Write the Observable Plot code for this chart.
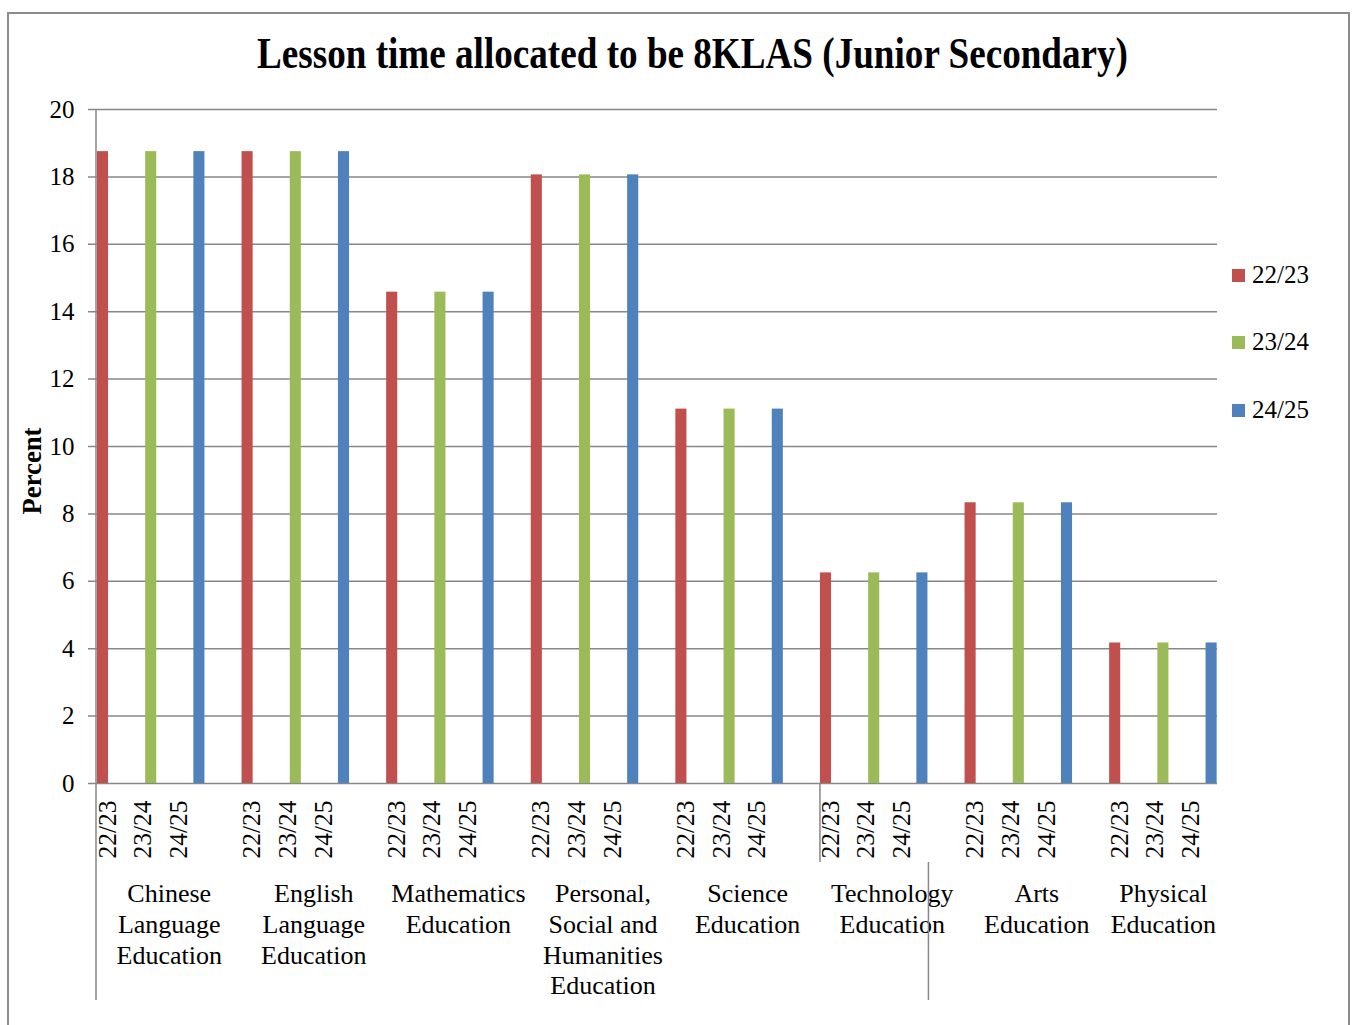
<!DOCTYPE html>
<html>
<head>
<meta charset="utf-8">
<script src="https://cdn.jsdelivr.net/npm/d3@7"></script>
<script src="https://cdn.jsdelivr.net/npm/@observablehq/plot@0.6"></script>
<style>
  body { margin: 0; background: #fff; }
  #wrap { position: relative; width: 1352px; height: 1025px; overflow: hidden; background: #fff; }
  #frame { position: absolute; left: 7px; top: 12px; width: 1343px; height: 1040px; border: 2px solid #8c8c8c; box-sizing: border-box; pointer-events: none; }
  #chart { position: absolute; left: 0; top: 0; }
  #chart svg text { font-family: "Liberation Serif", "Times New Roman", serif; }
  .legend { position: absolute; left: 1232px; font-family: "Liberation Serif", "Times New Roman", serif; font-size: 25px; color: #000; line-height: 1; }
  .legend span.sw { position: absolute; left: 0; width: 13px; height: 13px; }
  .legend span.lb { position: absolute; left: 20px; white-space: nowrap; }
</style>
</head>
<body>
<div id="wrap">
  <div id="chart"></div>
  <div id="legend"></div>
  <div id="frame"></div>
</div>
<script>
// ---- data ----
const categories = [
  "Chinese Language Education",
  "English Language Education",
  "Mathematics Education",
  "Personal, Social and Humanities Education",
  "Science Education",
  "Technology Education",
  "Arts Education",
  "Physical Education"
];
const categoryLabels = [
  "Chinese\nLanguage\nEducation",
  "English\nLanguage\nEducation",
  "Mathematics\nEducation",
  "Personal,\nSocial and\nHumanities\nEducation",
  "Science\nEducation",
  "Technology\nEducation",
  "Arts\nEducation",
  "Physical\nEducation"
];
const years = ["22/23", "23/24", "24/25"];
const values2223 = [18.75, 18.75, 14.58, 18.06, 11.11, 6.25, 8.33, 4.17];
const values2324 = [18.75, 18.75, 14.58, 18.06, 11.11, 6.25, 8.33, 4.17];
const values2425 = [18.75, 18.75, 14.58, 18.06, 11.11, 6.25, 8.33, 4.17];
const yTicks = [0, 2, 4, 6, 8, 10, 12, 14, 16, 18, 20];
const colors = ["#C0504D", "#9BBB59", "#4F81BD"];
const titleText = "Lesson time allocated to be 8KLAS (Junior Secondary)";
const yLabel = "Percent";

// ---- build table ----
const series = [values2223, values2324, values2425];
const data = [];
categories.forEach((c, i) => years.forEach((yr, j) => {
  data.push({cat: c, year: yr, key: c + "|" + yr, value: series[j][i]});
}));
const keys = data.map(d => d.key);
const catData = categories.map((c, i) => ({cat: c, label: categoryLabels[i], mid: c + "|" + years[1]}));

const serif = "'Liberation Serif', 'Times New Roman', serif";
const yearOffsets = [12.5, 0, -12.5];

function decor(index, scales, values, dims) {
  const x = scales.x, y = scales.y;
  const bw = x.bandwidth();
  const g = d3.create("svg:g");
  const axisX = dims.marginLeft;
  const y0 = y(0);
  g.append("line").attr("x1", axisX).attr("x2", axisX).attr("y1", y(20)).attr("y2", 1000)
    .attr("stroke", "#878787").attr("stroke-width", 1.5);
  const tRed = x(categories[5] + "|" + years[0]);
  const tBlue = x(categories[5] + "|" + years[2]) + bw;
  g.append("line").attr("x1", tRed).attr("x2", tRed).attr("y1", y0).attr("y2", 862)
    .attr("stroke", "#878787").attr("stroke-width", 1.5);
  g.append("line").attr("x1", tBlue + 1).attr("x2", tBlue + 1).attr("y1", 862).attr("y2", 1000)
    .attr("stroke", "#878787").attr("stroke-width", 1.5);
  g.append("text").attr("x", 692.5).attr("y", 68).attr("text-anchor", "middle")
    .attr("font-family", serif).attr("font-weight", "bold").attr("font-size", 44)
    .attr("textLength", 871).attr("lengthAdjust", "spacingAndGlyphs").attr("fill", "#000")
    .text(titleText);
  g.append("text").attr("transform", "translate(41,471) rotate(-90)").attr("text-anchor", "middle")
    .attr("font-family", serif).attr("font-weight", "bold").attr("font-size", 27)
    .attr("textLength", 87).attr("lengthAdjust", "spacingAndGlyphs").attr("fill", "#000")
    .text(yLabel);
  return g.node();
}

const plot = Plot.plot({
  width: 1352,
  height: 1025,
  marginLeft: 96,
  marginRight: 135,
  marginTop: 109,
  marginBottom: 242,
  style: {fontFamily: serif, fontSize: "25px", color: "#000", background: "transparent"},
  x: {type: "band", domain: keys, range: [78.4, 1235.2], paddingInner: 0.77, paddingOuter: 0.385, round: false, axis: null},
  y: {domain: [0, 20], axis: null},
  color: {domain: years, range: colors},
  marks: [
    Plot.ruleY(yTicks, {stroke: "#878787", strokeWidth: 1.5, strokeOpacity: 1, insetLeft: -8}),
    Plot.barY(data, {x: "key", y: "value", fill: "year"}),
    Plot.axisY({ticks: yTicks, tickSize: 0, tickPadding: 22, fontSize: 25, fontFamily: serif, label: null, tickFormat: d => String(d)}),
    ...years.map((yr, j) => Plot.text(data.filter(d => d.year === yr), {
      x: "key", text: "year", frameAnchor: "bottom", dy: 17, dx: yearOffsets[j],
      rotate: -90, textAnchor: "end", fontSize: 25.5, fontFamily: serif, fill: "#000"
    })),
    Plot.text(catData.slice(0, -1), {
      x: "mid", text: "label", frameAnchor: "bottom", dy: 97, dx: 18,
      lineAnchor: "top", lineHeight: 1.18, fontSize: 26, fontFamily: serif, fill: "#000"
    }),
    Plot.text(catData.slice(-1), {
      x: "mid", text: "label", frameAnchor: "bottom", dy: 97, dx: 0,
      lineAnchor: "top", lineHeight: 1.18, fontSize: 26, fontFamily: serif, fill: "#000"
    }),
    decor
  ]
});
document.getElementById("chart").appendChild(plot);

const leg = document.getElementById("legend");
const legendY = [276, 343, 411];
years.forEach((yr, j) => {
  const item = document.createElement("div");
  item.className = "legend";
  item.style.top = (legendY[j] - 7) + "px";
  item.innerHTML = `<span class="sw" style="background:${colors[j]};top:0"></span><span class="lb" style="top:-7px">${yr}</span>`;
  leg.appendChild(item);
});
</script>
</body>
</html>
